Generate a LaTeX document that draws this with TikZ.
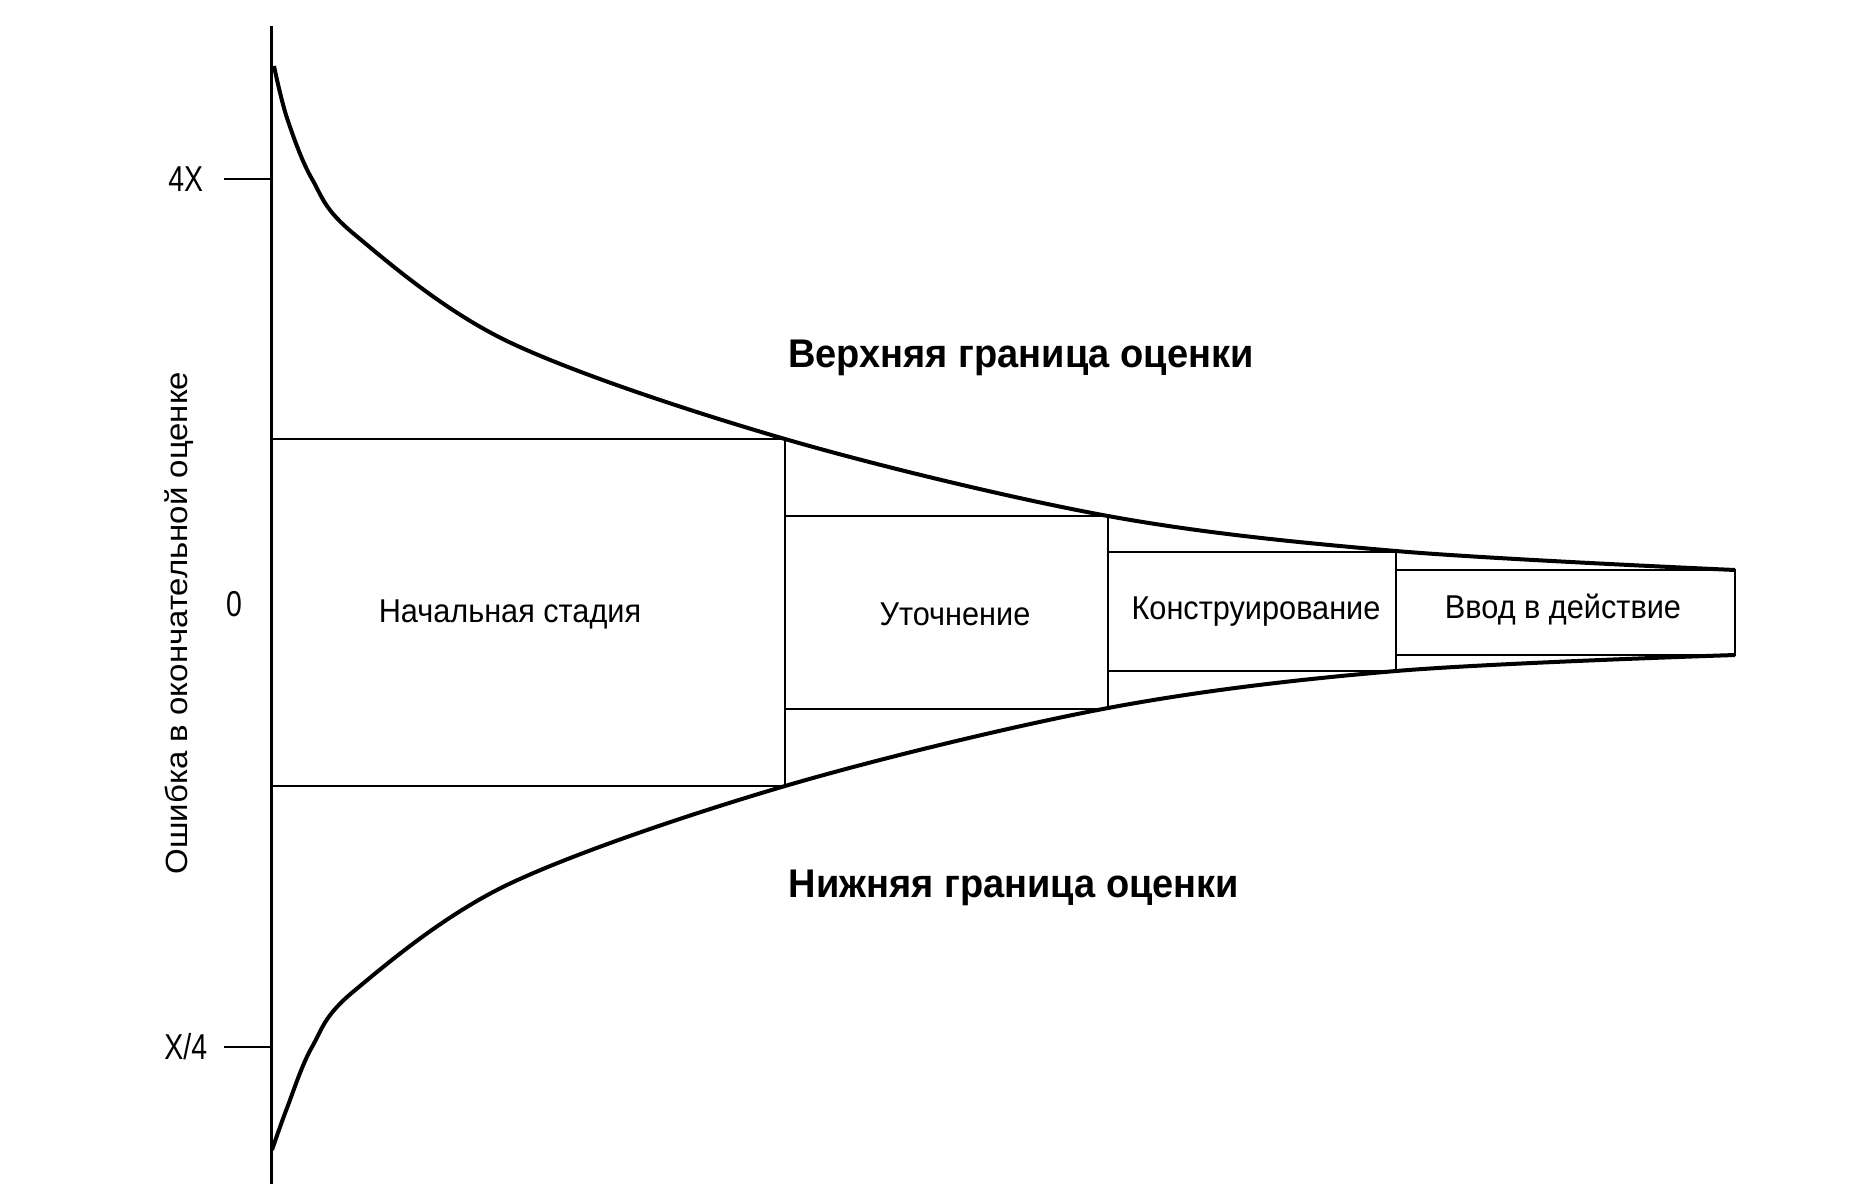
\documentclass[tikz,border=0pt]{standalone}
\usepackage{fontspec}
\setmainfont{Liberation Sans}
\begin{document}
\begin{tikzpicture}[x=1pt,y=-1pt,
  lbl/.style={font=\fontsize{33}{36}\selectfont, xscale=0.93},
  bnd/.style={font=\bfseries\fontsize{40}{44}\selectfont, xscale=0.95},
  box/.style={draw, line width=2.5pt},
  crv/.style={line width=4pt}]
\useasboundingbox (0,0) rectangle (1862,1200);
\coordinate (ax0) at (271,26);
\coordinate (ax1) at (271,1184);
\draw[line width=3pt] (ax0) -- (ax1);
\coordinate (t4a) at (224,179); \coordinate (t4b) at (271,179);
\coordinate (tqa) at (224,1047); \coordinate (tqb) at (271,1047);
\draw[line width=2.5pt] (t4a) -- (t4b);
\draw[line width=2.5pt] (tqa) -- (tqb);
\node[lbl, anchor=east, font=\fontsize{36}{40}\selectfont, xscale=0.85] (l4) at (206,179) {4X};
\node[lbl, anchor=east, font=\fontsize{36}{40}\selectfont, xscale=0.85] (lq) at (210,1047) {X/4};
\node[lbl, font=\fontsize{36}{40}\selectfont, xscale=0.85] (l0) at (234,604) {0};
\node[lbl, rotate=90] (ly) at (179,623) {Ошибка в окончательной оценке};
\draw[crv] plot[smooth, tension=0.55] coordinates {(274,66) (287,118) (312,179) (354,234) (509,342) (785,439) (1108,516) (1396,551) (1735,570)};
\draw[crv] plot[smooth, tension=0.55] coordinates {(272,1150) (287,1108) (312,1047) (354,991) (509,884) (785,786) (1108,708) (1396,671) (1735,655)};
\draw[box] (271,439) rectangle (785,786);
\draw[box] (785,516) rectangle (1108,709);
\draw[box] (1108,552) rectangle (1396,671);
\draw[box] (1396,570) rectangle (1735,655);
\node[lbl] (b1) at (510,614) {Начальная стадия};
\node[lbl] (b2) at (955,614) {Уточнение};
\node[lbl] (b3) at (1256,612) {Конструирование};
\node[lbl] (b4) at (1563,610) {Ввод в действие};
\node[bnd] (up) at (1021,358) {Верхняя граница оценки};
\node[bnd] (lo) at (1014,888) {Нижняя граница оценки};
\end{tikzpicture}
\end{document}
